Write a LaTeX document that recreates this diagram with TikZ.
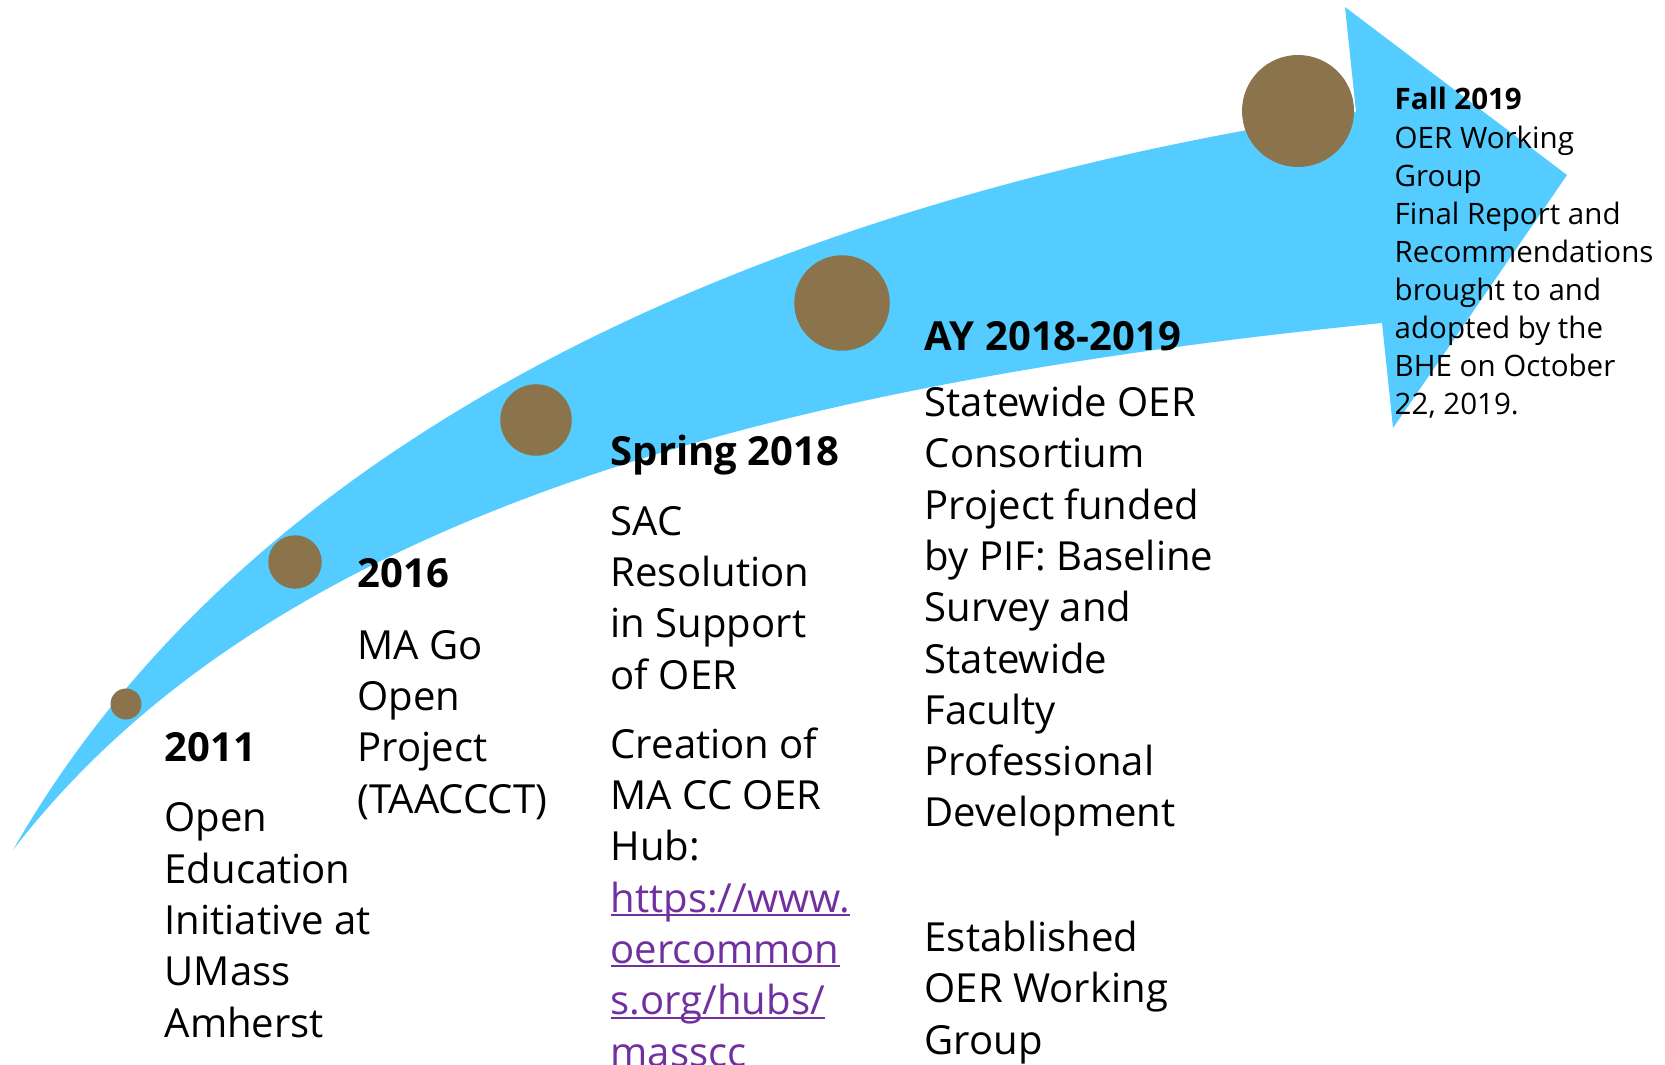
\documentclass[tikz,border=0pt]{standalone}
\usepackage{fontspec}
\setmainfont{Open Sans}
\usepackage{xcolor}
\definecolor{arrowblue}{RGB}{84,204,255}
\definecolor{dotbrown}{RGB}{139,115,76}
\definecolor{linkpurple}{RGB}{112,48,160}
\newsavebox\lnkbox
\newcommand{\lnk}[1]{\sbox\lnkbox{#1}\rlap{\rule[-1.15pt]{\wd\lnkbox}{0.55pt}}\usebox\lnkbox}

\begin{document}
\begin{tikzpicture}[x=0.1mm, y=-0.1mm,
    dot/.style={circle, fill=dotbrown, inner sep=0pt},
    big/.style={anchor=base west, align=left, inner sep=0pt, font=\fontsize{11.4}{14.6}\selectfont},
    small/.style={anchor=base west, align=left, inner sep=0pt, font=\fontsize{8.4}{10.85}\selectfont}]
    \useasboundingbox (0,0) rectangle (1665,1065);
    % the swoosh arrow
    \fill[arrowblue] (13,850) .. controls (263,412) and (806,194) .. (1356,112)
        -- (1345,7) -- (1567,175) -- (1393,428) -- (1382,323)
        .. controls (782,383) and (273,512) .. (13,850) -- cycle;
    % milestones
    \node[dot, minimum size=3.1mm] (d11) at (126,704) {};
    \node[dot, minimum size=5.35mm] (d16) at (295,562) {};
    \node[dot, minimum size=7.15mm] (d18) at (536,420) {};
    \node[dot, minimum size=9.55mm] (d19a) at (842,303) {};
    \node[dot, minimum size=11.2mm] (d19b) at (1298,111) {};
    % labels (placed at the baseline of their last line)
    \node[big] (t11) at (164,1037) {\textbf{2011}\\[5.3pt]Open\\Education\\Initiative at\\UMass\\Amherst};
    \node[big] (t16) at (357,813) {\textbf{2016}\\[5.8pt]MA Go\\Open\\Project\\(TAACCCT)};
    \node[big] (t18) at (610,1066) {\textbf{Spring 2018}\\[5.3pt]SAC\\Resolution\\in Support\\of OER\\[5pt]Creation of\\MA CC OER\\Hub:\\
        \textcolor{linkpurple}{\lnk{https://www.}}\\\textcolor{linkpurple}{\lnk{oercommon}}\\\textcolor{linkpurple}{\lnk{s.org/hubs/}}\\\textcolor{linkpurple}{\lnk{masscc}}};
    \node[big] (t19a) at (924,1054) {\textbf{AY 2018-2019}\\[4.3pt]Statewide OER\\Consortium\\Project funded\\by PIF: Baseline\\Survey and\\Statewide\\Faculty\\Professional\\Development\\[20.8pt]Established\\OER Working\\Group};
    \node[small] (t19b) at (1394,415) {\textbf{Fall 2019}\\OER Working\\Group\\Final Report and\\Recommendations\\brought to and\\adopted by the\\BHE on October\\22, 2019.};
\end{tikzpicture}
\end{document}
